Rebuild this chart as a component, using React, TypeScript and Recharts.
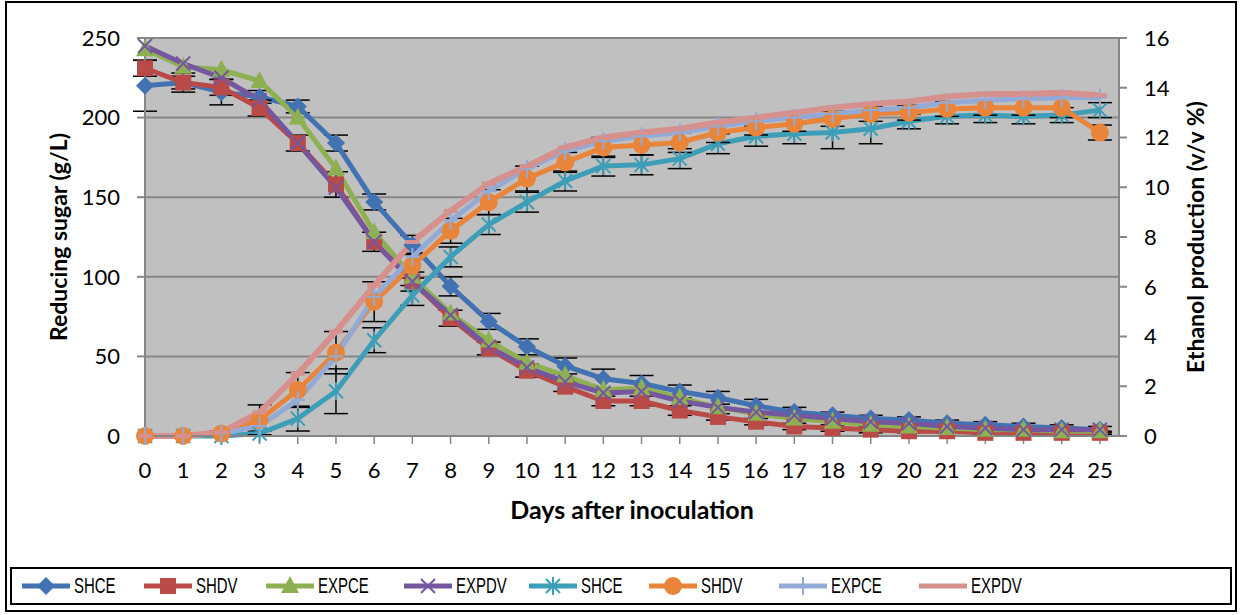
import React from "react";
import { ComposedChart, Line, XAxis, YAxis, CartesianGrid, ErrorBar } from "recharts";

document.body.style.margin = "0";

const days = [0, 1, 2, 3, 4, 5, 6, 7, 8, 9, 10, 11, 12, 13, 14, 15, 16, 17, 18, 19, 20, 21, 22, 23, 24, 25];

// reducing sugar (g/L), left axis
const shceSugar = [220, 222, 216, 213, 207, 184, 147, 120, 94, 72, 56, 44, 36, 33, 28, 24, 19, 15, 13, 11, 10, 8, 7, 6, 5, 4];
const shdvSugar = [231, 222, 219, 206, 184, 158, 122, 97, 74, 55, 41, 31, 22, 22, 16, 12, 9, 6, 5, 4, 3, 3, 2, 2, 2, 2];
const expceSugar = [243, 232, 230, 223, 200, 168, 128, 100, 77, 60, 46, 38, 29, 30, 24, 18, 14, 11, 9, 7, 6, 5, 4, 4, 3, 3];
const expdvSugar = [245, 234, 225, 211, 184, 156, 122, 97, 76, 56, 43, 34, 27, 28, 22, 18, 15, 13, 11, 9, 8, 6, 5, 4, 4, 4];

// ethanol (v/v %), right axis
const shceEth = [0, 0, 0, 0.1, 0.7, 1.8, 3.85, 5.65, 7.2, 8.5, 9.4, 10.25, 10.85, 10.9, 11.15, 11.75, 12.05, 12.15, 12.2, 12.35, 12.65, 12.85, 12.9, 12.85, 12.9, 13.1];
const shdvEth = [0, 0, 0.1, 0.65, 1.85, 3.35, 5.4, 6.85, 8.25, 9.4, 10.35, 11.0, 11.6, 11.7, 11.8, 12.2, 12.4, 12.55, 12.75, 12.95, 13.0, 13.15, 13.2, 13.2, 13.2, 12.2];
const expceEth = [0, 0, 0.1, 0.4, 1.45, 3.2, 5.6, 7.2, 8.65, 9.85, 10.75, 11.45, 11.85, 12.05, 12.2, 12.45, 12.65, 12.8, 12.95, 13.1, 13.2, 13.4, 13.5, 13.55, 13.6, 13.6];
const expdvEth = [0, 0, 0.15, 0.95, 2.5, 4.2, 6.05, 7.8, 9.05, 10.15, 10.85, 11.6, 12.0, 12.2, 12.35, 12.6, 12.8, 13.0, 13.2, 13.35, 13.45, 13.65, 13.75, 13.75, 13.8, 13.7];

// error bars (symmetric)
const shceSugarErr = [16, 6, 8, 4, 4, 5, 5, 6, 6, 5, 5, 5, 6, 5, 4, 4, 4, 3, 2, 2, 2, 2, 2, 2, 2, 2];
const shdvSugarErr = [5, 4, 5, 5, 5, 8, 6, 6, 5, 4, 4, 3, 3, 3, 3, 2, 2, 2, 2, 2, 1, 1, 1, 1, 1, 1];
const shceEthErr = [0, 0, 0, 0.1, 0.5, 0.9, 0.5, 0.4, 0.4, 0.4, 0.4, 0.4, 0.4, 0.4, 0.4, 0.4, 0.4, 0.4, 0.65, 0.6, 0.3, 0.3, 0.3, 0.3, 0.3, 0.3];
const shdvEthErr = [0, 0, 0.1, 0.6, 0.7, 0.85, 0.8, 0.5, 0.5, 0.5, 0.5, 0.4, 0.4, 0.4, 0.4, 0.4, 0.3, 0.3, 0.3, 0.3, 0.3, 0.3, 0.3, 0.3, 0.4, 0.3];

const seriesNames = ["SHCE", "SHDV", "EXPCE", "EXPDV", "SHCE", "SHDV", "EXPCE", "EXPDV"];

const data = days.map((d, i) => ({
  day: d,
  shceSugar: shceSugar[i],
  shdvSugar: shdvSugar[i],
  expceSugar: expceSugar[i],
  expdvSugar: expdvSugar[i],
  shceEth: shceEth[i],
  shdvEth: shdvEth[i],
  expceEth: expceEth[i],
  expdvEth: expdvEth[i],
  shceSugarErr: shceSugarErr[i],
  shdvSugarErr: shdvSugarErr[i],
  shceEthErr: shceEthErr[i],
  shdvEthErr: shdvEthErr[i],
}));

const C = {
  blue: "#4372B2",
  red: "#B94A47",
  green: "#8EAF52",
  purple: "#7557A0",
  teal: "#3D9EB8",
  orange: "#E9843B",
  lightblue: "#94AAD6",
  pink: "#D6918F",
};

type Kind = "diamond" | "square" | "triangle" | "x" | "star" | "circle" | "plus" | "dash";

const Marker = ({ cx, cy, kind, color }: { cx: number; cy: number; kind: Kind; color: string }) => {
  if (cx == null || cy == null) return null;
  switch (kind) {
    case "diamond":
      return <polygon points={`${cx},${cy - 9} ${cx + 9},${cy} ${cx},${cy + 9} ${cx - 9},${cy}`} fill={color} />;
    case "square":
      return <rect x={cx - 8} y={cy - 8} width={16} height={16} fill={color} />;
    case "triangle":
      return <polygon points={`${cx},${cy - 10} ${cx + 9},${cy + 7} ${cx - 9},${cy + 7}`} fill={color} />;
    case "x":
      return (
        <g stroke={color} strokeWidth={2}>
          <line x1={cx - 7} y1={cy - 7} x2={cx + 7} y2={cy + 7} />
          <line x1={cx - 7} y1={cy + 7} x2={cx + 7} y2={cy - 7} />
        </g>
      );
    case "star":
      return (
        <g stroke={color} strokeWidth={2}>
          <line x1={cx - 7} y1={cy - 7} x2={cx + 7} y2={cy + 7} />
          <line x1={cx - 7} y1={cy + 7} x2={cx + 7} y2={cy - 7} />
          <line x1={cx} y1={cy - 9} x2={cx} y2={cy + 9} />
        </g>
      );
    case "circle":
      return <circle cx={cx} cy={cy} r={9} fill={color} />;
    case "plus":
      return (
        <g stroke={color} strokeWidth={2}>
          <line x1={cx} y1={cy - 9} x2={cx} y2={cy + 9} />
          <line x1={cx - 7} y1={cy} x2={cx + 7} y2={cy} />
        </g>
      );
    default:
      return <line x1={cx - 7} y1={cy} x2={cx + 7} y2={cy} stroke={color} strokeWidth={4} />;
  }
};

const dotFor = (kind: Kind, color: string) => (p: any) =>
  <Marker key={`${kind}-${p.index}`} cx={p.cx} cy={p.cy} kind={kind} color={color} />;

const lineDefs: { key: string; axis: string; kind: Kind; color: string; err?: string; width: number }[] = [
  { key: "shceSugar", axis: "left", kind: "diamond", color: C.blue, err: "shceSugarErr", width: 5 },
  { key: "shdvSugar", axis: "left", kind: "square", color: C.red, err: "shdvSugarErr", width: 5 },
  { key: "expceSugar", axis: "left", kind: "triangle", color: C.green, width: 5 },
  { key: "expdvSugar", axis: "left", kind: "x", color: C.purple, width: 5 },
  { key: "shceEth", axis: "right", kind: "star", color: C.teal, err: "shceEthErr", width: 5 },
  { key: "shdvEth", axis: "right", kind: "circle", color: C.orange, err: "shdvEthErr", width: 5 },
  { key: "expceEth", axis: "right", kind: "plus", color: C.lightblue, width: 5 },
  { key: "expdvEth", axis: "right", kind: "dash", color: C.pink, width: 6 },
];

const FONT = "Lato, 'Open Sans', sans-serif";
const tickStyle = { fill: "#000", fontSize: 22, fontFamily: FONT };

const LeftTitle = (props: any) => {
  const { y, height } = props.viewBox;
  const cx = 58;
  const cy = y + height / 2;
  return (
    <text x={cx} y={cy} transform={`rotate(-90 ${cx} ${cy})`} textAnchor="middle" dominantBaseline="central"
      fontFamily={FONT} fontWeight="bold" fontSize={23} fill="#000">
      Reducing sugar (g/L)
    </text>
  );
};

const RightTitle = (props: any) => {
  const { y, height } = props.viewBox;
  const cx = 1195;
  const cy = y + height / 2;
  return (
    <text x={cx} y={cy} transform={`rotate(-90 ${cx} ${cy})`} textAnchor="middle" dominantBaseline="central"
      fontFamily={FONT} fontWeight="bold" fontSize={23} fill="#000">
      Ethanol production (v/v %)
    </text>
  );
};

const legendLeft = [18, 140, 262, 400, 525, 645, 775, 915];

const Legend8 = () => (
  <div style={{ position: "absolute", left: 10, top: 567, width: 1218, height: 34, border: "2px solid #000", background: "#fff" }}>
    {lineDefs.map((d, i) => (
      <div key={d.key} style={{ position: "absolute", left: legendLeft[i] - 10, top: 6, display: "flex", alignItems: "center", height: 22, whiteSpace: "nowrap" }}>
        <svg width={52} height={22}>
          <line x1={2} y1={11} x2={50} y2={11} stroke={d.color} strokeWidth={5} />
          <Marker cx={26} cy={11} kind={d.kind} color={d.color} />
        </svg>
        <span style={{ display: "inline-block", fontFamily: "'Liberation Sans', Arial, sans-serif", fontSize: 22, marginLeft: 2, transform: "scaleX(0.68)", transformOrigin: "left center" }}>
          {seriesNames[i]}
        </span>
      </div>
    ))}
  </div>
);

export default function App() {
  return (
    <div style={{ position: "relative", width: 1242, height: 615, background: "#fff" }}>
      <div style={{ position: "absolute", left: 5, top: 1, width: 1232, height: 611, border: "2px solid #000", boxSizing: "border-box" }} />
      <ComposedChart width={1242} height={615} data={data} margin={{ top: 38, right: 0, bottom: 89, left: 0 }}>
        <CartesianGrid yAxisId="left" vertical={false} fill="#C0C0C0" stroke="#868686" strokeWidth={2} />
        <XAxis
          dataKey="day"
          type="number"
          domain={[0, 25.5]}
          ticks={days}
          interval={0}
          height={90}
          tick={tickStyle}
          tickSize={8}
          tickMargin={18}
          axisLine={{ stroke: "#868686", strokeWidth: 2 }}
          tickLine={{ stroke: "#868686", strokeWidth: 1.5 }}
          label={{ value: "Days after inoculation", position: "insideBottom", offset: 7, fontFamily: FONT, fontWeight: "bold", fontSize: 25, fill: "#000" }}
        />
        <YAxis
          yAxisId="left"
          domain={[0, 250]}
          ticks={[0, 50, 100, 150, 200, 250]}
          width={145}
          tick={tickStyle}
          tickSize={8}
          tickMargin={17}
          axisLine={{ stroke: "#868686", strokeWidth: 2 }}
          tickLine={{ stroke: "#868686", strokeWidth: 2 }}
          label={<LeftTitle />}
        />
        <YAxis
          yAxisId="right"
          orientation="right"
          domain={[0, 16]}
          ticks={[0, 2, 4, 6, 8, 10, 12, 14, 16]}
          width={123}
          tick={tickStyle}
          tickSize={8}
          tickMargin={17}
          axisLine={{ stroke: "#868686", strokeWidth: 2 }}
          tickLine={{ stroke: "#868686", strokeWidth: 2 }}
          label={<RightTitle />}
        />
        {lineDefs.map((d) => (
          <Line
            key={d.key}
            yAxisId={d.axis}
            dataKey={d.key}
            type="linear"
            stroke={d.color}
            strokeWidth={d.width}
            dot={dotFor(d.kind, d.color)}
            activeDot={false}
            isAnimationActive={false}
          >
            {d.err ? <ErrorBar dataKey={d.err} direction="y" width={12} stroke="#000" strokeWidth={1.5} /> : null}
          </Line>
        ))}
      </ComposedChart>
      <Legend8 />
    </div>
  );
}
